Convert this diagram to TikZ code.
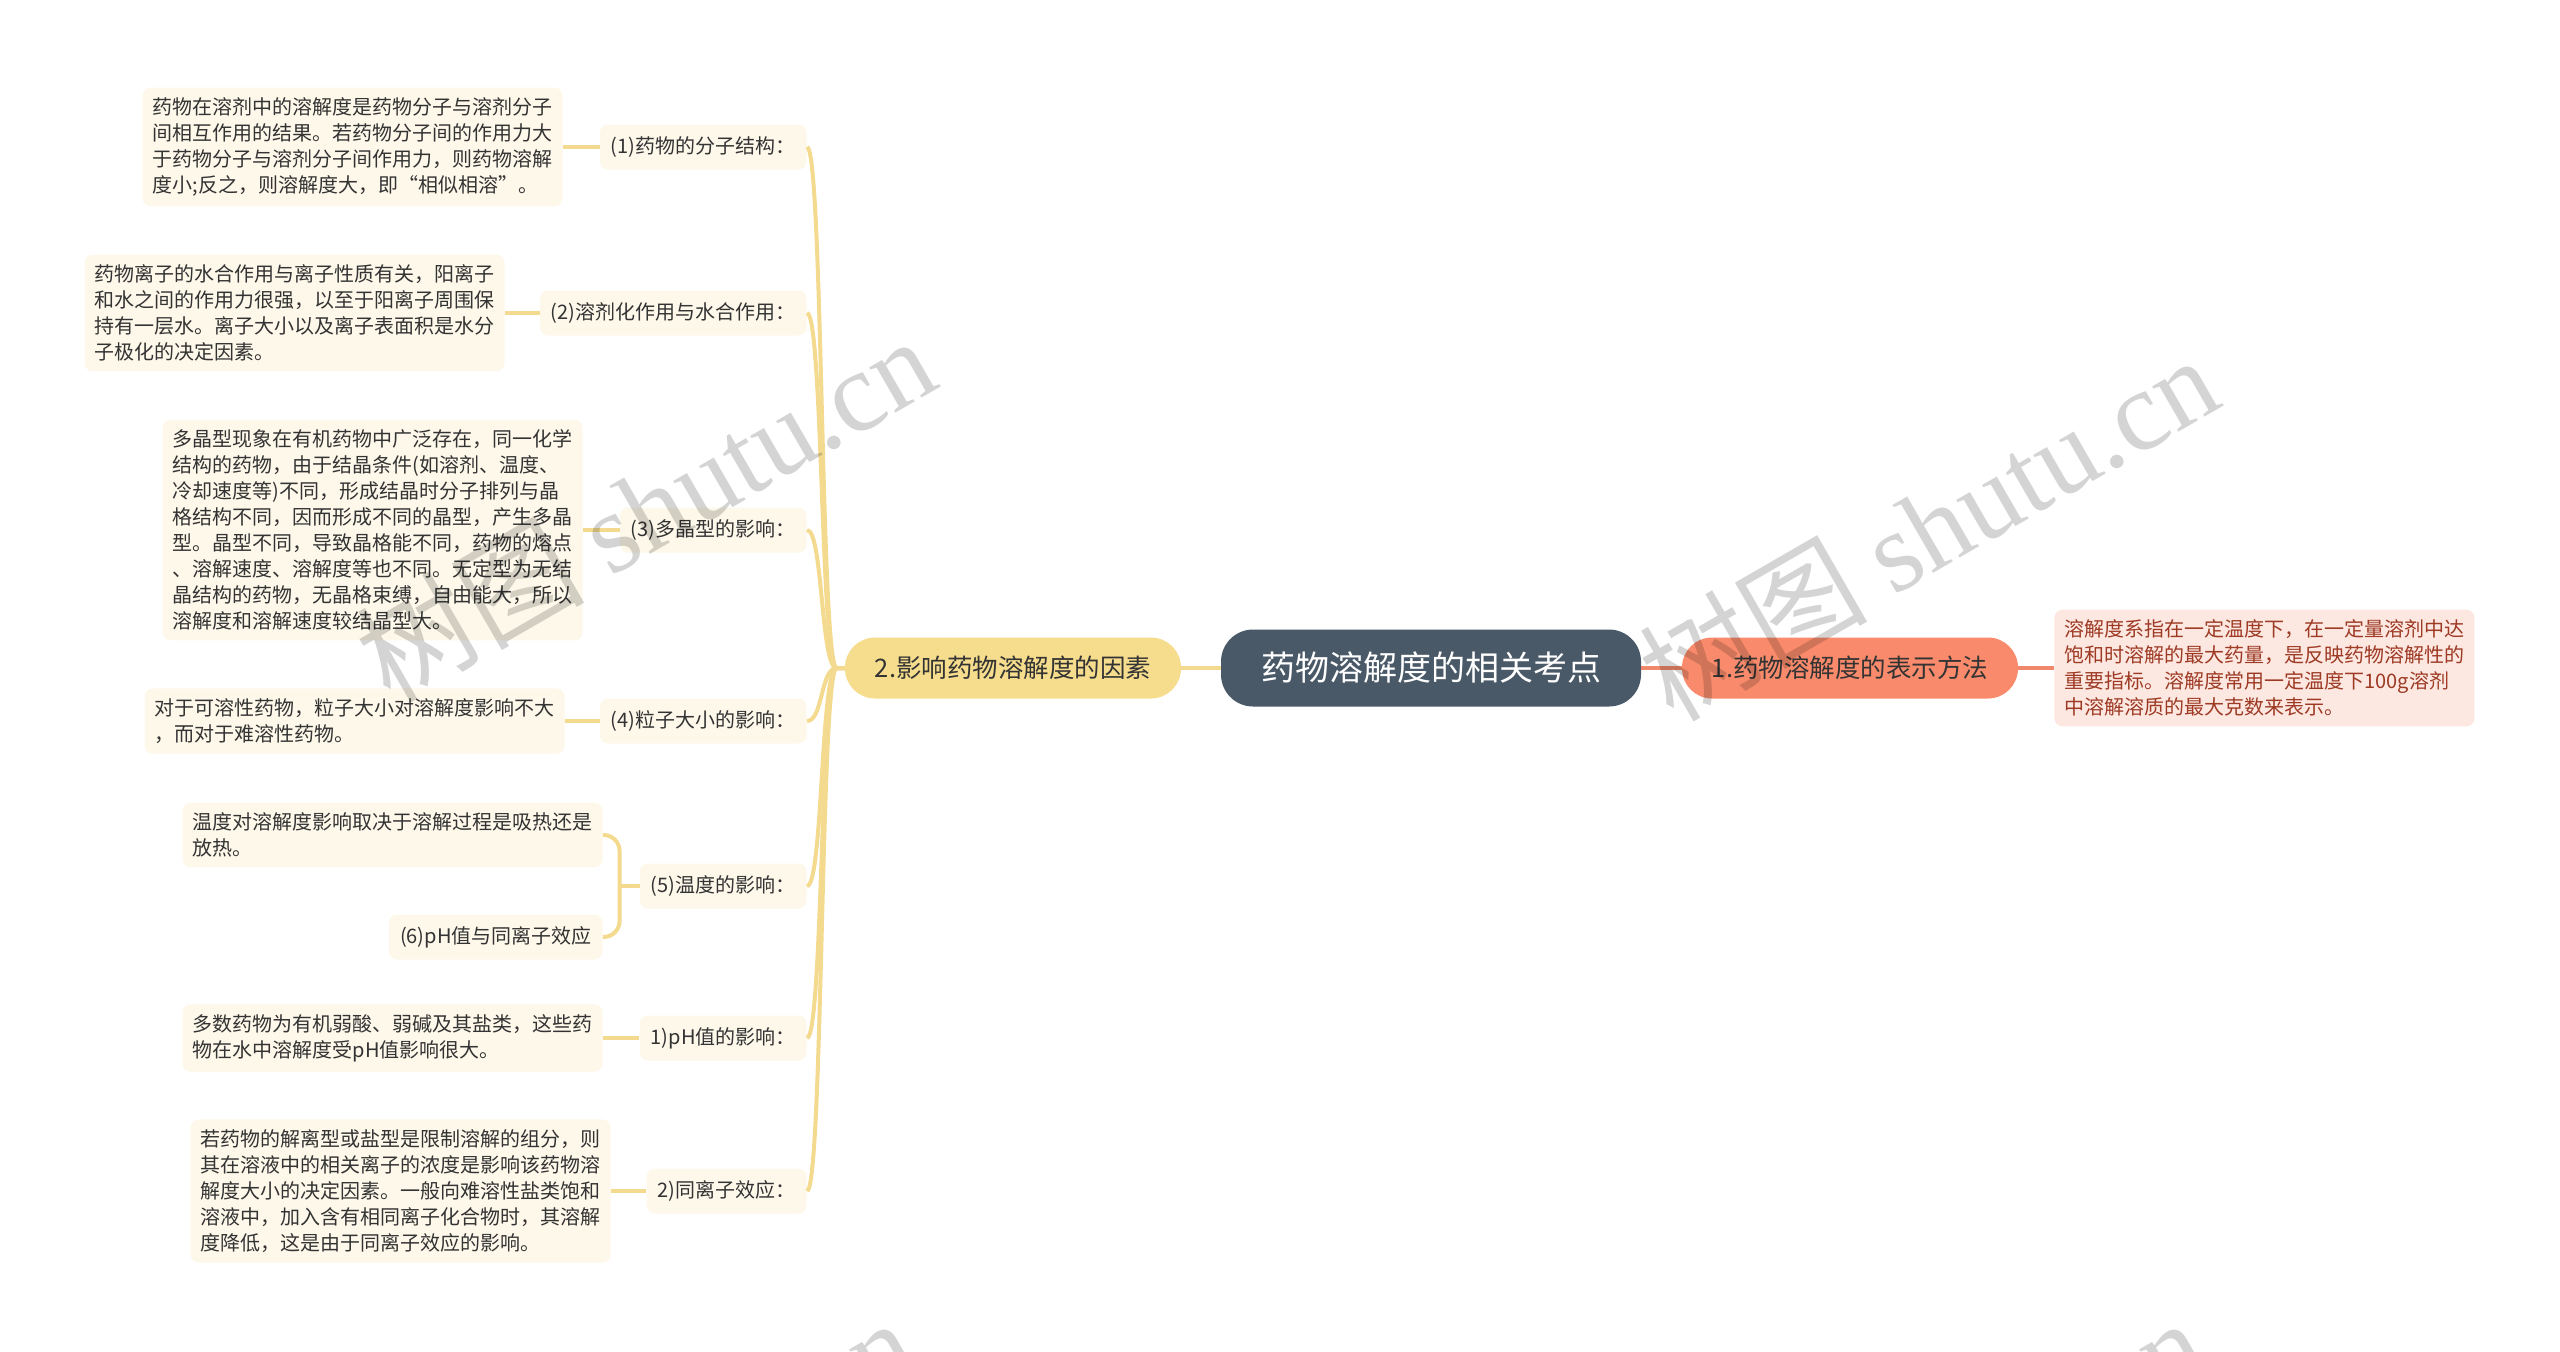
\documentclass[tikz,border=0pt]{standalone}
\usepackage{fontspec}
\setmainfont{Noto Sans CJK SC}
\newfontfamily\wmlatin{Liberation Serif}

\definecolor{rootfill}{HTML}{4A5968}
\definecolor{facfill}{HTML}{F6DD8E}
\definecolor{deffill}{HTML}{F98B6C}
\definecolor{leaffill}{HTML}{FDF8EA}
\definecolor{pinkfill}{HTML}{FDE7E1}
\definecolor{pinktext}{HTML}{9D3A24}
\definecolor{yline}{HTML}{F3DA8E}
\definecolor{rline}{HTML}{F0896B}
\definecolor{ink}{HTML}{333333}

\begin{document}
\begin{tikzpicture}[x=0.5pt, y=-0.5pt,
  root/.style={fill=rootfill, text=white, rounded corners=16pt,
    minimum width=210pt, minimum height=38.5pt, font=\fontsize{17}{20}\selectfont},
  topic/.style={text=ink, rounded corners=15pt, minimum width=168pt,
    minimum height=30.5pt, font=\fontsize{12.75}{15}\selectfont},
  sub/.style={fill=leaffill, text=ink, rounded corners=4pt, anchor=east,
    inner xsep=5.5pt, minimum height=22.5pt, font=\fontsize{10}{13}\selectfont},
  leaf/.style={fill=leaffill, text=ink, rounded corners=4pt, anchor=east, align=left,
    inner xsep=5pt, inner ysep=5pt, font=\fontsize{10}{13}\selectfont},
  ylink/.style={draw=yline, line width=2pt},
  rlink/.style={draw=rline, line width=1.6pt},
  wm/.style={text=black, text opacity=0.17, rotate=30, font=\fontsize{57}{60}\selectfont}]
\useasboundingbox (0,0) rectangle (2560,1351);
\clip (0,0) rectangle (2560,1351);

\node[root] (root) at (1431,668) {药物溶解度的相关考点};
\node[topic, fill=facfill] (fac) at (1013,668) {2.影响药物溶解度的因素};
\node[topic, fill=deffill] (def) at (1850,668) {1.药物溶解度的表示方法};
\node[leaf, anchor=west, fill=pinkfill, text=pinktext] (dleaf) at (2054,668)
  {溶解度系指在一定温度下，在一定量溶剂中达\\饱和时溶解的最大药量，是反映药物溶解性的\\重要指标。溶解度常用一定温度下100g溶剂\\中溶解溶质的最大克数来表示。};

\node[sub] (s1) at (807,147) {(1)药物的分子结构：};
\node[sub] (s2) at (807,313) {(2)溶剂化作用与水合作用：};
\node[sub] (s3) at (807,530) {(3)多晶型的影响：};
\node[sub] (s4) at (807,721) {(4)粒子大小的影响：};
\node[sub] (s5) at (807,886) {(5)温度的影响：};
\node[sub] (s6) at (807,1038) {1)pH值的影响：};
\node[sub] (s7) at (807,1191) {2)同离子效应：};

\node[leaf] (l1) at (563,147)
  {药物在溶剂中的溶解度是药物分子与溶剂分子\\间相互作用的结果。若药物分子间的作用力大\\于药物分子与溶剂分子间作用力，则药物溶解\\度小;反之，则溶解度大，即“相似相溶”。};
\node[leaf] (l2) at (505,313)
  {药物离子的水合作用与离子性质有关，阳离子\\和水之间的作用力很强，以至于阳离子周围保\\持有一层水。离子大小以及离子表面积是水分\\子极化的决定因素。};
\node[leaf] (l3) at (583,530)
  {多晶型现象在有机药物中广泛存在，同一化学\\结构的药物，由于结晶条件(如溶剂、温度、\\冷却速度等)不同，形成结晶时分子排列与晶\\格结构不同，因而形成不同的晶型，产生多晶\\型。晶型不同，导致晶格能不同，药物的熔点\\、溶解速度、溶解度等也不同。无定型为无结\\晶结构的药物，无晶格束缚，自由能大，所以\\溶解度和溶解速度较结晶型大。};
\node[leaf] (l4) at (565,721)
  {对于可溶性药物，粒子大小对溶解度影响不大\\，而对于难溶性药物。};
\node[leaf] (l5) at (603,835)
  {温度对溶解度影响取决于溶解过程是吸热还是\\放热。};
\node[sub] (l5b) at (603,937) {(6)pH值与同离子效应};
\node[leaf] (l6) at (603,1038)
  {多数药物为有机弱酸、弱碱及其盐类，这些药\\物在水中溶解度受pH值影响很大。};
\node[leaf] (l7) at (611,1191)
  {若药物的解离型或盐型是限制溶解的组分，则\\其在溶液中的相关离子的浓度是影响该药物溶\\解度大小的决定因素。一般向难溶性盐类饱和\\溶液中，加入含有相同离子化合物时，其溶解\\度降低，这是由于同离子效应的影响。};

\draw[rlink] (root.east) -- (def.west);
\draw[rlink] (def.east) -- (dleaf.west);
\draw[ylink] (root.west) -- (fac.east);
\foreach \s in {s1,s2,s3,s4,s5,s6,s7}
  \draw[ylink] (fac.west) -- ++(-8,0) .. controls +(-16,0) and +(16,0) .. (\s.east);
\foreach \s/\l in {s1/l1,s2/l2,s3/l3,s4/l4,s6/l6,s7/l7}
  \draw[ylink] (\s.west) -- (\l.east);
\draw[ylink] (s5.west) -- ++(-20,0) coordinate (b5);
\draw[ylink, rounded corners=8pt] (b5) |- (l5.east);
\draw[ylink, rounded corners=8pt] (b5) |- (l5b.east);

\node[wm] (wm1) at (645,508) {树图 {\wmlatin shutu.cn}};
\node[wm] (wm2) at (1928,527) {树图 {\wmlatin shutu.cn}};
\node[wm] (wm3) at (625,1490) {树图 {\wmlatin shutu.cn}};
\node[wm] (wm4) at (1915,1490) {树图 {\wmlatin shutu.cn}};
\end{tikzpicture}
\end{document}
